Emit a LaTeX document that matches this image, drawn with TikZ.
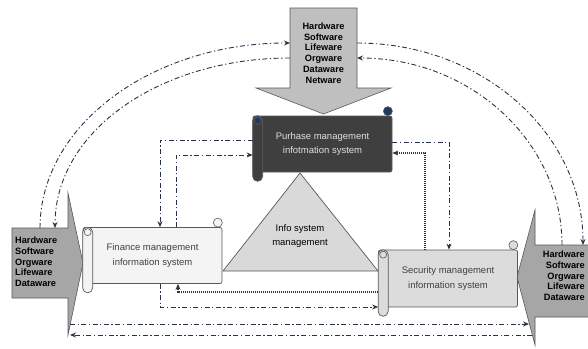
\documentclass[tikz,border=0pt]{standalone}
\usepackage{fontspec}
\setmainfont{Liberation Sans}
\usetikzlibrary{arrows.meta, positioning}
\definecolor{linknavy}{HTML}{283449}
\definecolor{edgegray}{HTML}{595959}
\definecolor{topfill}{HTML}{BFBFBF}
\definecolor{sidefill}{HTML}{A6A6A6}
\definecolor{purfill}{HTML}{3F3F3F}
\definecolor{finfill}{HTML}{F4F4F4}
\definecolor{secfill}{HTML}{DCDCDC}
\definecolor{trifill}{HTML}{D9D9D9}
\definecolor{curlnavy}{HTML}{1F3864}
\tikzset{
	blockarrow/.style={draw=edgegray, line width=0.6pt},
	wlist/.style={font=\fontsize{9.2}{10.7}\selectfont\bfseries, inner sep=0pt},
	scrollbody/.style={draw=edgegray, line width=0.7pt, rounded corners=2pt,
		minimum width=139pt, minimum height=56pt, align=center,
		font=\fontsize{9.5}{14.5}\selectfont, inner sep=0pt},
	dashdot/.style={draw=linknavy, line width=0.9pt,
		dash pattern=on 5pt off 2.5pt on 1.3pt off 2.5pt},
	dotline/.style={draw=linknavy, line width=1.1pt, dash pattern=on 1pt off 1pt},
	linkarr/.style={-{Stealth[length=6pt, width=5pt]}}
}

\begin{document}
\begin{tikzpicture}[x=1pt, y=-1pt]
	\useasboundingbox (0,0) rectangle (588,348);

	% big block arrows
	\draw[blockarrow, fill=topfill] (290,8) -- (357,8) -- (357,88) -- (391,88)
		-- (323.5,114) -- (256,88) -- (290,88) -- cycle;
	\draw[blockarrow, fill=sidefill] (12,228) -- (68,228) -- (68,193) -- (83,263)
		-- (68,335) -- (68,298) -- (12,298) -- cycle;
	\draw[blockarrow, fill=sidefill] (591,245) -- (535,245) -- (535,210) -- (517,277)
		-- (535,345) -- (535,317) -- (591,317);
	\node[wlist, align=center] (hwtop) at (323.5,53)
		{Hardware\\Software\\Lifeware\\Orgware\\Dataware\\Netware};
	\node[wlist, align=left, anchor=west] (hwleft) at (15,262)
		{Hardware\\Software\\Orgware\\Lifeware\\Dataware};
	\node[wlist, align=right, anchor=east] (hwright) at (585,276)
		{Hardware\\Software\\Orgware\\Lifeware\\Dataware};

	% triangle in the middle
	\draw[draw=edgegray, line width=0.7pt, fill=trifill]
		(300,173) -- (378,271) -- (223,271) -- cycle;
	\node[align=center, font=\fontsize{9.5}{13.5}\selectfont] (ism) at (300,236)
		{Info system\\management};

	% scrolls
	\node[scrollbody, fill=purfill, text=white!88!black] (pur) at (322.5,144)
		{Purhase management\\infotmation system};
	\node[scrollbody, fill=finfill, text=black!75] (fin) at (152.5,255.5)
		{Finance management\\information system};
	\node[scrollbody, fill=secfill, text=black!75, minimum height=57pt] (sec) at (448,278.5)
		{Security management\\information system};
	\foreach \s/\c/\k in {fin/finfill/finfill, sec/secfill/secfill, pur/purfill/curlnavy} {
		\draw[draw=edgegray, line width=0.7pt, fill=\c, rounded corners=5pt]
			(\s.north west) rectangle ([xshift=10pt, yshift=-9pt]\s.south west);
		\draw[draw=edgegray, line width=0.6pt, fill=\k]
			([xshift=5pt, yshift=-5pt]\s.north west) circle (3.5pt);
		\draw[draw=edgegray, line width=0.6pt, fill=\k]
			([xshift=-4.5pt, yshift=4.5pt]\s.north east) circle (4.5pt);
	}

	% end points on the block arrows
	\coordinate (lto) at (40,228);
	\coordinate (lti) at (55,228);
	\coordinate (tlo) at (290,43);
	\coordinate (tli) at (290,58);
	\coordinate (tro) at (357,43);
	\coordinate (tri) at (357,58);
	\coordinate (rto) at (583,245);
	\coordinate (rti) at (562,245);
	\coordinate (lb1) at (70,324);
	\coordinate (rb1) at (529,324);
	\coordinate (lb2) at (70,335);
	\coordinate (rb2) at (532,335);

	% arcs round the top
	\draw[dashdot, linkarr] (lto) .. controls (40,126) and (151,43) .. (tlo);
	\draw[dashdot, linkarr] (tli) .. controls (160,58) and (55,131) .. (lti);
	\draw[dashdot, linkarr] (tro) .. controls (482,43) and (583,133) .. (rto);
	\draw[dashdot, linkarr] (rti) .. controls (562,142) and (471,58) .. (tri);

	% links between the scrolls
	\draw[dashdot, linkarr] ([yshift=4pt]pur.west) -| ([xshift=7.5pt]fin.north);
	\draw[dashdot, linkarr] ([xshift=23.5pt]fin.north) |- ([yshift=-11pt]pur.west);
	\draw[dashdot, linkarr] ([yshift=2pt]pur.east) -| ([xshift=1pt]sec.north);
	\draw[dotline, linkarr] ([xshift=-23pt]sec.north) |- ([yshift=-9pt]pur.east);
	\draw[dotline, linkarr] ([yshift=-13.5pt]sec.west) -| ([xshift=25.5pt]fin.south);
	\draw[dashdot, linkarr] ([xshift=7.5pt]fin.south) |- ([yshift=-28.5pt]sec.west);

	% long links at the bottom
	\draw[dashdot, linkarr] (lb1) -- (rb1);
	\draw[dashdot, linkarr] (rb2) -- (lb2);
\end{tikzpicture}
\end{document}
